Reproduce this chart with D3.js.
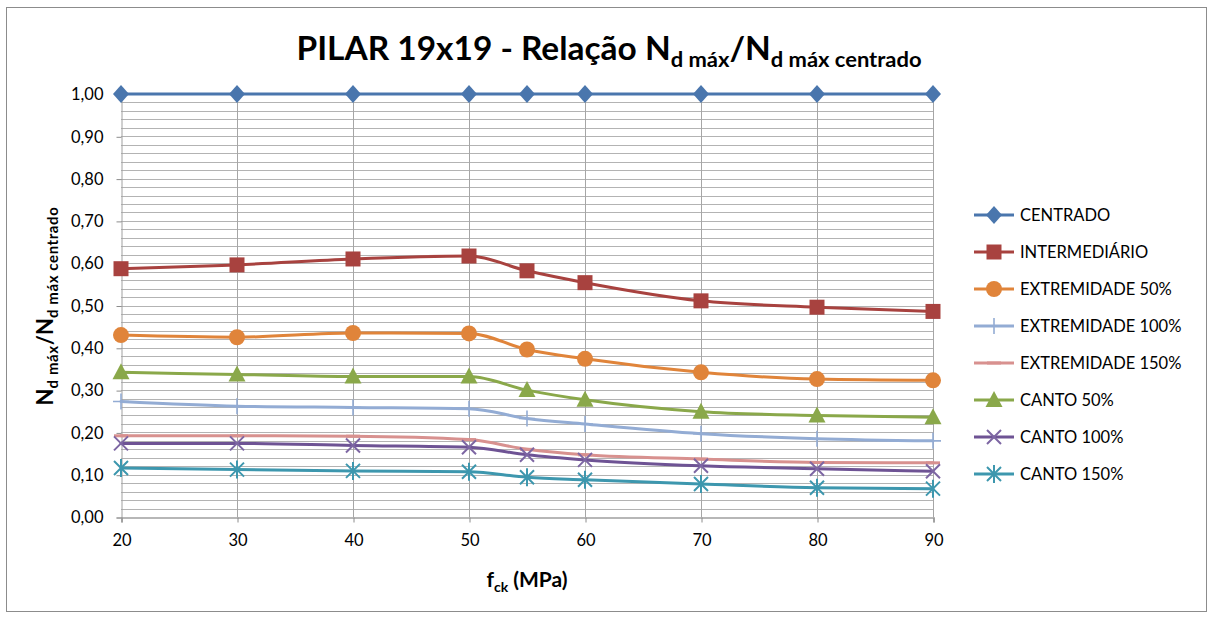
<!DOCTYPE html>
<html>
<head>
<meta charset="utf-8">
<script src="https://cdn.jsdelivr.net/npm/d3@7"></script>
<style>
  html, body { margin: 0; padding: 0; background: #ffffff; }
  svg { display: block; }
  text { font-family: Lato, "Open Sans", "Liberation Sans", sans-serif; fill: #000; }
</style>
</head>
<body>
<svg id="chart" width="1211" height="617"></svg>
<script>
// f_ck values (MPa)
const fck = [20, 30, 40, 50, 55, 60, 70, 80, 90];

// Nd máx / Nd máx centrado ratios per load position
const centrado       = [1.00, 1.00, 1.00, 1.00, 1.00, 1.00, 1.00, 1.00, 1.00];
const intermediario  = [0.587, 0.596, 0.610, 0.617, 0.582, 0.554, 0.511, 0.496, 0.486];
const extremidade50  = [0.430, 0.425, 0.435, 0.434, 0.396, 0.374, 0.342, 0.326, 0.323];
const extremidade100 = [0.273, 0.262, 0.259, 0.256, 0.233, 0.220, 0.197, 0.185, 0.180];
const extremidade150 = [0.192, 0.192, 0.191, 0.183, 0.160, 0.147, 0.137, 0.129, 0.128];
const canto50        = [0.342, 0.337, 0.332, 0.332, 0.300, 0.277, 0.249, 0.240, 0.236];
const canto100       = [0.174, 0.174, 0.169, 0.165, 0.147, 0.135, 0.121, 0.114, 0.108];
const canto150       = [0.116, 0.112, 0.109, 0.107, 0.094, 0.088, 0.078, 0.069, 0.067];

const seriesNames = ["CENTRADO", "INTERMEDIÁRIO", "EXTREMIDADE 50%", "EXTREMIDADE 100%",
                     "EXTREMIDADE 150%", "CANTO 50%", "CANTO 100%", "CANTO 150%"];
const seriesValues = [centrado, intermediario, extremidade50, extremidade100,
                      extremidade150, canto50, canto100, canto150];

// axis ticks
const xTicks = [20, 30, 40, 50, 60, 70, 80, 90];
const yTicks = [0, 0.1, 0.2, 0.3, 0.4, 0.5, 0.6, 0.7, 0.8, 0.9, 1.0];

// styling per series
const styles = [
  { color: "#4a76ad", marker: "diamond" },
  { color: "#a8423f", marker: "square" },
  { color: "#e0843a", marker: "circle" },
  { color: "#93acd4", marker: "plus" },
  { color: "#d8918f", marker: "dash" },
  { color: "#8aa84a", marker: "triangle" },
  { color: "#6e5394", marker: "x", markerColor: "#7d66a3" },
  { color: "#3d97ae", marker: "star" }
];

const svg = d3.select("#chart");

// outer chart frame
svg.append("rect")
  .attr("x", 6.5).attr("y", 7.5).attr("width", 1200).attr("height", 604)
  .attr("fill", "#fff").attr("stroke", "#8c8c8c").attr("stroke-width", 1);

const plot = { left: 121, right: 933, top: 94, bottom: 517 };

const x = d3.scaleLinear().domain([20, 90]).range([plot.left, plot.right]);
const y = d3.scaleLinear().domain([0, 1]).range([plot.bottom, plot.top]);

const grid = svg.append("g");

// horizontal gridlines every 0.02
const hGrid = d3.range(1, 51).map(i => i * 0.02);
grid.selectAll("line.h").data(hGrid).join("line")
  .attr("x1", plot.left).attr("x2", plot.right)
  .attr("y1", d => Math.round(y(d)) + 0.5).attr("y2", d => Math.round(y(d)) + 0.5)
  .attr("stroke", "#b3b3b3").attr("stroke-width", 1);

// vertical gridlines every 10 MPa
grid.selectAll("line.v").data(xTicks.slice(1)).join("line")
  .attr("y1", plot.top).attr("y2", plot.bottom)
  .attr("x1", d => Math.round(x(d)) + 0.5).attr("x2", d => Math.round(x(d)) + 0.5)
  .attr("stroke", "#a6a6a6").attr("stroke-width", 1);

// Y axis
const yAxis = d3.axisLeft(y).tickValues(yTicks)
  .tickFormat(d => d3.format(".2f")(d).replace(".", ","))
  .tickSize(5).tickPadding(13);
const gy = svg.append("g").attr("transform", `translate(${plot.left + 0.5},0.5)`).call(yAxis);
gy.select(".domain").attr("stroke", "#a0a0a0");
gy.selectAll(".tick line").attr("stroke", "#8c8c8c");
gy.selectAll(".tick text").style("font-size", "16.5px").style("font-family", "Lato").attr("fill", "#000");

// X axis
const xAxis = d3.axisBottom(x).tickValues(xTicks).tickFormat(d3.format("d"))
  .tickSize(5).tickPadding(12);
const gx = svg.append("g").attr("transform", `translate(0.5,${plot.bottom + 0.5})`).call(xAxis);
gx.select(".domain").attr("stroke", "#a0a0a0").attr("stroke-width", 1.5);
gx.selectAll(".tick line").attr("stroke", "#8c8c8c");
gx.selectAll(".tick text").style("font-size", "16.5px").style("font-family", "Lato").attr("fill", "#000");

// marker shapes
function markerPath(type) {
  switch (type) {
    case "diamond":  return "M0,-9L8,0L0,9L-8,0Z";
    case "square":   return "M-7.5,-7.5H7.5V7.5H-7.5Z";
    case "circle":   return d3.symbol(d3.symbolCircle, Math.PI * 8 * 8)();
    case "triangle": return "M0,-9L8.5,7L-8.5,7Z";
    case "plus":     return "M0,-8V8M-8,0H8";
    case "dash":     return "M-7,0H7";
    case "x":        return "M-7,-7L7,7M-7,7L7,-7";
    case "star":     return "M-7,-7L7,7M-7,7L7,-7M0,-9V9";
  }
}
const filled = new Set(["diamond", "square", "circle", "triangle"]);

function drawMarker(g, type, color) {
  const p = g.append("path").attr("d", markerPath(type));
  if (filled.has(type)) p.attr("fill", color).attr("stroke", "none");
  else p.attr("fill", "none").attr("stroke", color)
        .attr("stroke-width", type === "dash" ? 3 : (type === "plus" ? 1.6 : 2));
}

const line = d3.line()
  .x(d => x(d[0])).y(d => y(d[1]))
  .curve(d3.curveMonotoneX);

const seriesG = svg.append("g");
seriesValues.forEach((vals, i) => {
  const st = styles[i];
  const pts = fck.map((f, j) => [f, vals[j]]);
  const g = seriesG.append("g");
  g.append("path").datum(pts).attr("d", line)
    .attr("fill", "none").attr("stroke", st.color)
    .attr("stroke-width", 3).attr("stroke-linejoin", "round").attr("stroke-linecap", "round");
  pts.forEach(p => {
    const m = g.append("g").attr("transform", `translate(${x(p[0])},${y(p[1])})`);
    drawMarker(m, st.marker, st.markerColor || st.color);
  });
});

// legend
const legendY = d3.scaleLinear().domain([0, 7]).range([215, 474]);
const legend = svg.append("g");
seriesNames.forEach((name, i) => {
  const st = styles[i];
  const g = legend.append("g").attr("transform", `translate(0,${legendY(i)})`);
  g.append("line").attr("x1", 974).attr("x2", 1014).attr("y1", 0).attr("y2", 0)
    .attr("stroke", st.color).attr("stroke-width", 3);
  const m = g.append("g").attr("transform", "translate(994,0)");
  drawMarker(m, st.marker, st.markerColor || st.color);
  g.append("text").attr("x", 1020).attr("y", 0).attr("dy", "0.36em")
    .style("font-size", "16.5px").text(name);
});

// title
const title = svg.append("text").attr("x", 609).attr("y", 60)
  .attr("text-anchor", "middle").style("font-weight", "bold").style("font-size", "32px")
  .attr("textLength", 625).attr("lengthAdjust", "spacingAndGlyphs");
title.append("tspan").text("PILAR 19x19 - Relação N");
title.append("tspan").attr("dy", 7).style("font-size", "21px").text("d máx");
title.append("tspan").attr("dy", -7).text("/N");
title.append("tspan").attr("dy", 7).style("font-size", "21px").text("d máx centrado");

// y axis title
const yt = svg.append("text")
  .attr("transform", "translate(53,306) rotate(-90)")
  .attr("text-anchor", "middle").style("font-weight", "bold").style("font-size", "22px");
yt.append("tspan").text("N");
yt.append("tspan").attr("dy", 5).style("font-size", "15px").style("letter-spacing", "0.6px").text("d máx");
yt.append("tspan").attr("dy", -5).text("/N");
yt.append("tspan").attr("dy", 5).style("font-size", "15px").style("letter-spacing", "0.6px").text("d máx centrado");

// x axis title
const xt = svg.append("text").attr("x", 527).attr("y", 587)
  .attr("text-anchor", "middle").style("font-weight", "bold").style("font-size", "21px");
xt.append("tspan").text("f");
xt.append("tspan").attr("dy", 5).style("font-size", "14px").text("ck");
xt.append("tspan").attr("dy", -5).text(" (MPa)");
</script>
</body>
</html>
